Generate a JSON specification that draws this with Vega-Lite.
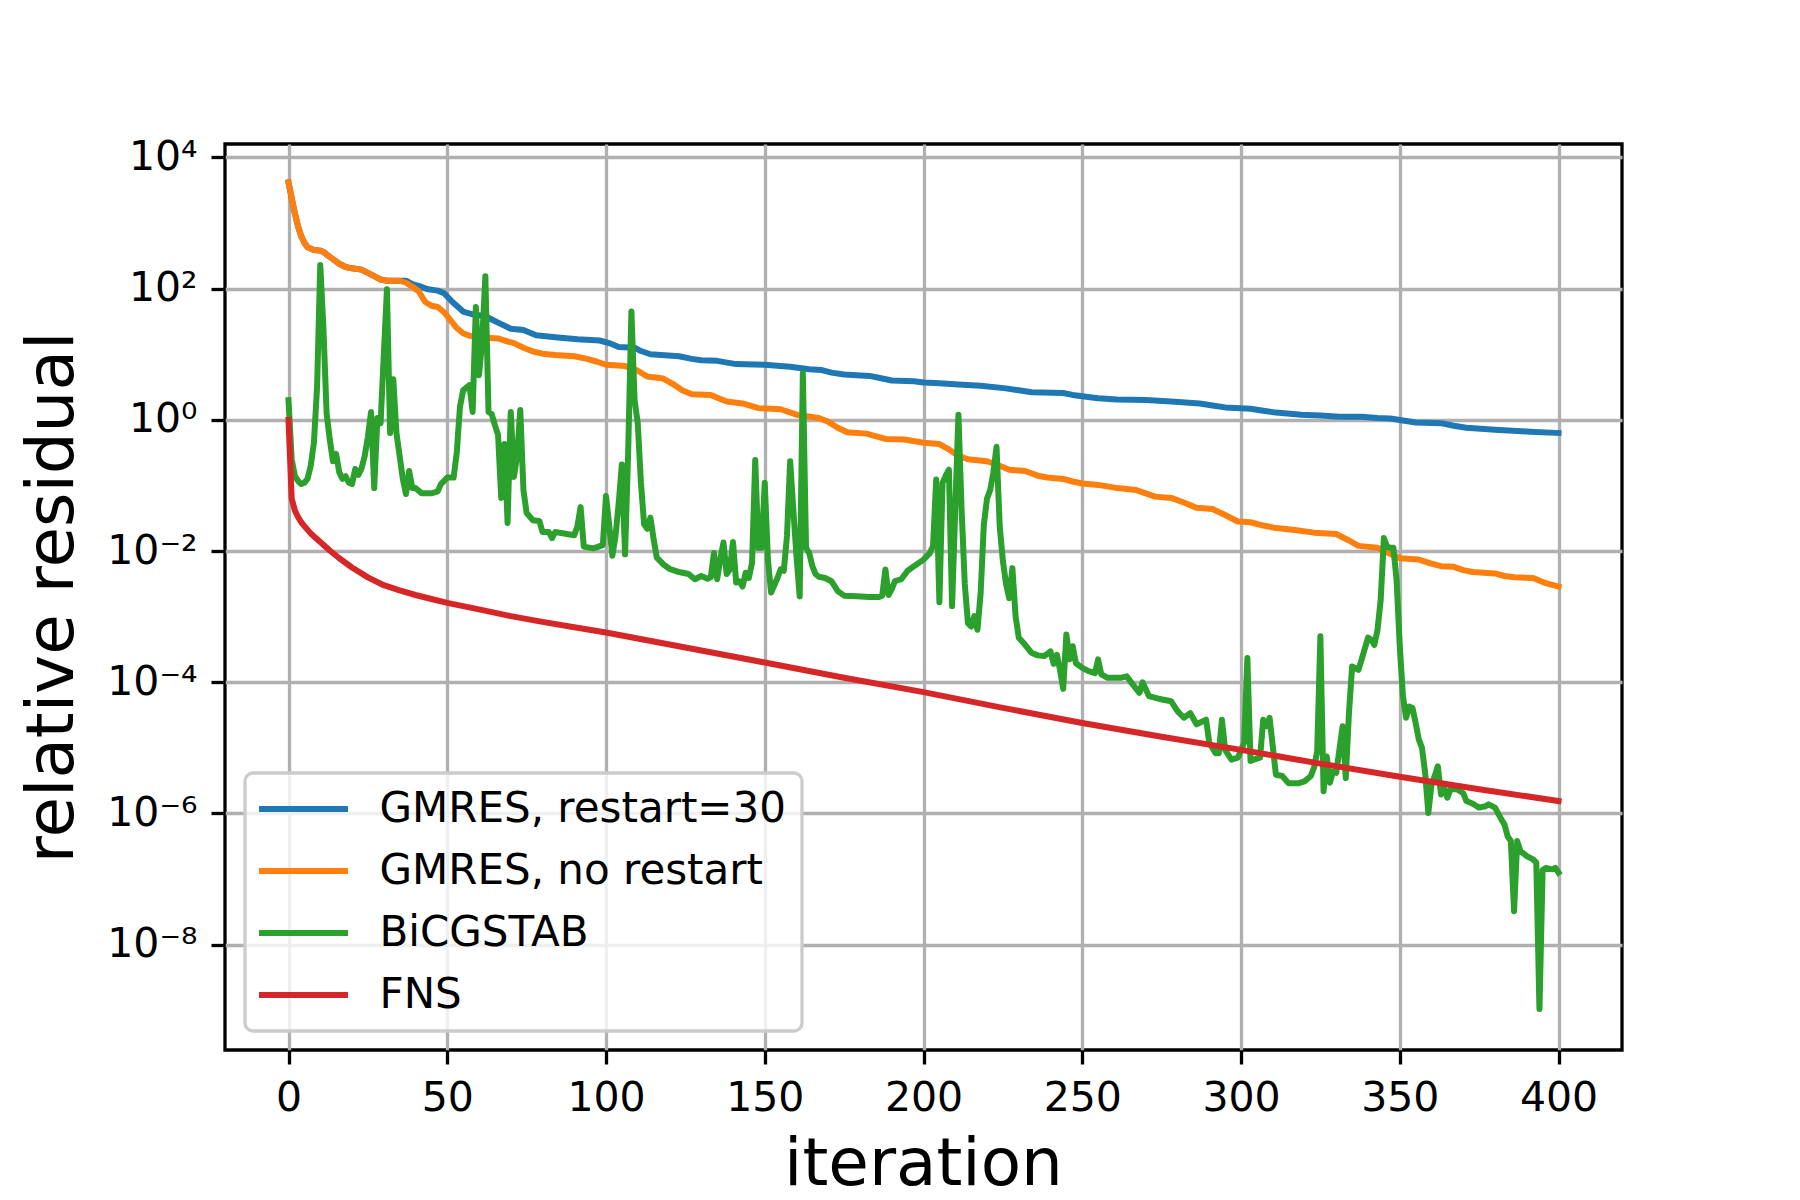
{
  "$schema": "https://vega.github.io/schema/vega-lite/v6.json",
  "width": 1397,
  "height": 906,
  "autosize": "none",
  "padding": {"left": 225, "top": 144, "right": 178, "bottom": 150},
  "background": "white",
  "config": {
    "view": {"stroke": "black", "strokeWidth": 3.3},
    "font": "DejaVu Sans",
    "axis": {
      "domain": false,
      "grid": true,
      "gridColor": "#b0b0b0",
      "gridWidth": 3.3,
      "tickColor": "black",
      "tickWidth": 3.3,
      "tickSize": 14,
      "labelFont": "DejaVu Sans",
      "labelFontSize": 41,
      "labelColor": "black",
      "labelPadding": 14,
      "labelFlush": false,
      "labelOverlap": false,
      "titleFont": "DejaVu Sans",
      "titleFontSize": 66,
      "titleFontWeight": "normal",
      "titleColor": "black"
    },
    "legend": {
      "labelFont": "DejaVu Sans",
      "labelFontSize": 42,
      "labelColor": "black",
      "labelLimit": 700,
      "labelOffset": 55,
      "symbolType": "M-2.5,0H2.5",
      "symbolSize": 1267,
      "symbolOffset": 22.5,
      "symbolStrokeWidth": 6,
      "rowPadding": 20,
      "padding": 15,
      "strokeColor": "#cccccc",
      "strokeWidth": 3.3,
      "cornerRadius": 8,
      "fillColor": "rgba(255,255,255,0.8)"
    }
  },
  "data": {
    "values": [
      {"solver": "GMRES, restart=30", "iteration": 0, "residual": 4170},
      {"solver": "GMRES, restart=30", "iteration": 1, "residual": 2400},
      {"solver": "GMRES, restart=30", "iteration": 2, "residual": 1410},
      {"solver": "GMRES, restart=30", "iteration": 3, "residual": 891},
      {"solver": "GMRES, restart=30", "iteration": 4, "residual": 631},
      {"solver": "GMRES, restart=30", "iteration": 5, "residual": 501},
      {"solver": "GMRES, restart=30", "iteration": 6, "residual": 427},
      {"solver": "GMRES, restart=30", "iteration": 8, "residual": 389},
      {"solver": "GMRES, restart=30", "iteration": 10, "residual": 380},
      {"solver": "GMRES, restart=30", "iteration": 11, "residual": 363},
      {"solver": "GMRES, restart=30", "iteration": 12, "residual": 331},
      {"solver": "GMRES, restart=30", "iteration": 14, "residual": 282},
      {"solver": "GMRES, restart=30", "iteration": 16, "residual": 240},
      {"solver": "GMRES, restart=30", "iteration": 18, "residual": 214},
      {"solver": "GMRES, restart=30", "iteration": 20, "residual": 204},
      {"solver": "GMRES, restart=30", "iteration": 23, "residual": 195},
      {"solver": "GMRES, restart=30", "iteration": 25, "residual": 174},
      {"solver": "GMRES, restart=30", "iteration": 27, "residual": 155},
      {"solver": "GMRES, restart=30", "iteration": 29, "residual": 138},
      {"solver": "GMRES, restart=30", "iteration": 31, "residual": 132},
      {"solver": "GMRES, restart=30", "iteration": 35, "residual": 132},
      {"solver": "GMRES, restart=30", "iteration": 37, "residual": 132},
      {"solver": "GMRES, restart=30", "iteration": 39, "residual": 117},
      {"solver": "GMRES, restart=30", "iteration": 41, "residual": 110},
      {"solver": "GMRES, restart=30", "iteration": 44, "residual": 97.7},
      {"solver": "GMRES, restart=30", "iteration": 47, "residual": 93.3},
      {"solver": "GMRES, restart=30", "iteration": 49, "residual": 85.1},
      {"solver": "GMRES, restart=30", "iteration": 52, "residual": 60.3},
      {"solver": "GMRES, restart=30", "iteration": 55, "residual": 44.7},
      {"solver": "GMRES, restart=30", "iteration": 58, "residual": 40.7},
      {"solver": "GMRES, restart=30", "iteration": 62, "residual": 38.0},
      {"solver": "GMRES, restart=30", "iteration": 64, "residual": 33.9},
      {"solver": "GMRES, restart=30", "iteration": 67, "residual": 28.8},
      {"solver": "GMRES, restart=30", "iteration": 70, "residual": 24.5},
      {"solver": "GMRES, restart=30", "iteration": 74, "residual": 23.4},
      {"solver": "GMRES, restart=30", "iteration": 78, "residual": 19.5},
      {"solver": "GMRES, restart=30", "iteration": 84, "residual": 18.2},
      {"solver": "GMRES, restart=30", "iteration": 91, "residual": 17.0},
      {"solver": "GMRES, restart=30", "iteration": 98, "residual": 16.2},
      {"solver": "GMRES, restart=30", "iteration": 101, "residual": 14.8},
      {"solver": "GMRES, restart=30", "iteration": 104, "residual": 12.9},
      {"solver": "GMRES, restart=30", "iteration": 109, "residual": 12.6},
      {"solver": "GMRES, restart=30", "iteration": 111, "residual": 11.2},
      {"solver": "GMRES, restart=30", "iteration": 114, "residual": 10.0},
      {"solver": "GMRES, restart=30", "iteration": 123, "residual": 9.33},
      {"solver": "GMRES, restart=30", "iteration": 127, "residual": 8.51},
      {"solver": "GMRES, restart=30", "iteration": 130, "residual": 8.13},
      {"solver": "GMRES, restart=30", "iteration": 135, "residual": 7.94},
      {"solver": "GMRES, restart=30", "iteration": 141, "residual": 7.08},
      {"solver": "GMRES, restart=30", "iteration": 150, "residual": 6.92},
      {"solver": "GMRES, restart=30", "iteration": 158, "residual": 6.46},
      {"solver": "GMRES, restart=30", "iteration": 164, "residual": 5.89},
      {"solver": "GMRES, restart=30", "iteration": 168, "residual": 5.75},
      {"solver": "GMRES, restart=30", "iteration": 171, "residual": 5.25},
      {"solver": "GMRES, restart=30", "iteration": 175, "residual": 4.90},
      {"solver": "GMRES, restart=30", "iteration": 183, "residual": 4.68},
      {"solver": "GMRES, restart=30", "iteration": 187, "residual": 4.27},
      {"solver": "GMRES, restart=30", "iteration": 190, "residual": 3.98},
      {"solver": "GMRES, restart=30", "iteration": 197, "residual": 3.89},
      {"solver": "GMRES, restart=30", "iteration": 200, "residual": 3.72},
      {"solver": "GMRES, restart=30", "iteration": 205, "residual": 3.63},
      {"solver": "GMRES, restart=30", "iteration": 211, "residual": 3.47},
      {"solver": "GMRES, restart=30", "iteration": 218, "residual": 3.31},
      {"solver": "GMRES, restart=30", "iteration": 226, "residual": 3.02},
      {"solver": "GMRES, restart=30", "iteration": 230, "residual": 2.82},
      {"solver": "GMRES, restart=30", "iteration": 234, "residual": 2.63},
      {"solver": "GMRES, restart=30", "iteration": 244, "residual": 2.57},
      {"solver": "GMRES, restart=30", "iteration": 247, "residual": 2.40},
      {"solver": "GMRES, restart=30", "iteration": 250, "residual": 2.29},
      {"solver": "GMRES, restart=30", "iteration": 255, "residual": 2.14},
      {"solver": "GMRES, restart=30", "iteration": 261, "residual": 2.04},
      {"solver": "GMRES, restart=30", "iteration": 270, "residual": 2.00},
      {"solver": "GMRES, restart=30", "iteration": 278, "residual": 1.91},
      {"solver": "GMRES, restart=30", "iteration": 287, "residual": 1.78},
      {"solver": "GMRES, restart=30", "iteration": 291, "residual": 1.66},
      {"solver": "GMRES, restart=30", "iteration": 295, "residual": 1.55},
      {"solver": "GMRES, restart=30", "iteration": 303, "residual": 1.48},
      {"solver": "GMRES, restart=30", "iteration": 307, "residual": 1.38},
      {"solver": "GMRES, restart=30", "iteration": 311, "residual": 1.29},
      {"solver": "GMRES, restart=30", "iteration": 319, "residual": 1.20},
      {"solver": "GMRES, restart=30", "iteration": 325, "residual": 1.17},
      {"solver": "GMRES, restart=30", "iteration": 331, "residual": 1.12},
      {"solver": "GMRES, restart=30", "iteration": 338, "residual": 1.12},
      {"solver": "GMRES, restart=30", "iteration": 343, "residual": 1.07},
      {"solver": "GMRES, restart=30", "iteration": 347, "residual": 1.05},
      {"solver": "GMRES, restart=30", "iteration": 351, "residual": 0.977},
      {"solver": "GMRES, restart=30", "iteration": 355, "residual": 0.912},
      {"solver": "GMRES, restart=30", "iteration": 363, "residual": 0.891},
      {"solver": "GMRES, restart=30", "iteration": 367, "residual": 0.813},
      {"solver": "GMRES, restart=30", "iteration": 371, "residual": 0.759},
      {"solver": "GMRES, restart=30", "iteration": 380, "residual": 0.708},
      {"solver": "GMRES, restart=30", "iteration": 391, "residual": 0.661},
      {"solver": "GMRES, restart=30", "iteration": 400, "residual": 0.631},

      {"solver": "GMRES, no restart", "iteration": 0, "residual": 4170},
      {"solver": "GMRES, no restart", "iteration": 1, "residual": 2400},
      {"solver": "GMRES, no restart", "iteration": 2, "residual": 1410},
      {"solver": "GMRES, no restart", "iteration": 3, "residual": 891},
      {"solver": "GMRES, no restart", "iteration": 4, "residual": 631},
      {"solver": "GMRES, no restart", "iteration": 5, "residual": 501},
      {"solver": "GMRES, no restart", "iteration": 6, "residual": 427},
      {"solver": "GMRES, no restart", "iteration": 8, "residual": 389},
      {"solver": "GMRES, no restart", "iteration": 10, "residual": 380},
      {"solver": "GMRES, no restart", "iteration": 11, "residual": 363},
      {"solver": "GMRES, no restart", "iteration": 12, "residual": 331},
      {"solver": "GMRES, no restart", "iteration": 14, "residual": 282},
      {"solver": "GMRES, no restart", "iteration": 16, "residual": 240},
      {"solver": "GMRES, no restart", "iteration": 18, "residual": 214},
      {"solver": "GMRES, no restart", "iteration": 20, "residual": 204},
      {"solver": "GMRES, no restart", "iteration": 23, "residual": 195},
      {"solver": "GMRES, no restart", "iteration": 25, "residual": 174},
      {"solver": "GMRES, no restart", "iteration": 27, "residual": 155},
      {"solver": "GMRES, no restart", "iteration": 29, "residual": 138},
      {"solver": "GMRES, no restart", "iteration": 31, "residual": 132},
      {"solver": "GMRES, no restart", "iteration": 35, "residual": 132},
      {"solver": "GMRES, no restart", "iteration": 37, "residual": 123},
      {"solver": "GMRES, no restart", "iteration": 39, "residual": 107},
      {"solver": "GMRES, no restart", "iteration": 41, "residual": 91.2},
      {"solver": "GMRES, no restart", "iteration": 43, "residual": 63.1},
      {"solver": "GMRES, no restart", "iteration": 45, "residual": 55.0},
      {"solver": "GMRES, no restart", "iteration": 47, "residual": 52.5},
      {"solver": "GMRES, no restart", "iteration": 49, "residual": 43.7},
      {"solver": "GMRES, no restart", "iteration": 51, "residual": 33.1},
      {"solver": "GMRES, no restart", "iteration": 53, "residual": 25.1},
      {"solver": "GMRES, no restart", "iteration": 55, "residual": 20.9},
      {"solver": "GMRES, no restart", "iteration": 57, "residual": 19.1},
      {"solver": "GMRES, no restart", "iteration": 60, "residual": 18.2},
      {"solver": "GMRES, no restart", "iteration": 66, "residual": 17.4},
      {"solver": "GMRES, no restart", "iteration": 68, "residual": 16.2},
      {"solver": "GMRES, no restart", "iteration": 71, "residual": 14.8},
      {"solver": "GMRES, no restart", "iteration": 74, "residual": 12.6},
      {"solver": "GMRES, no restart", "iteration": 77, "residual": 11.0},
      {"solver": "GMRES, no restart", "iteration": 80, "residual": 10.2},
      {"solver": "GMRES, no restart", "iteration": 84, "residual": 9.77},
      {"solver": "GMRES, no restart", "iteration": 90, "residual": 9.33},
      {"solver": "GMRES, no restart", "iteration": 94, "residual": 8.51},
      {"solver": "GMRES, no restart", "iteration": 97, "residual": 7.76},
      {"solver": "GMRES, no restart", "iteration": 100, "residual": 6.92},
      {"solver": "GMRES, no restart", "iteration": 106, "residual": 6.61},
      {"solver": "GMRES, no restart", "iteration": 110, "residual": 5.62},
      {"solver": "GMRES, no restart", "iteration": 113, "residual": 4.57},
      {"solver": "GMRES, no restart", "iteration": 118, "residual": 4.27},
      {"solver": "GMRES, no restart", "iteration": 121, "residual": 3.55},
      {"solver": "GMRES, no restart", "iteration": 124, "residual": 2.82},
      {"solver": "GMRES, no restart", "iteration": 127, "residual": 2.45},
      {"solver": "GMRES, no restart", "iteration": 133, "residual": 2.40},
      {"solver": "GMRES, no restart", "iteration": 138, "residual": 1.91},
      {"solver": "GMRES, no restart", "iteration": 143, "residual": 1.78},
      {"solver": "GMRES, no restart", "iteration": 148, "residual": 1.51},
      {"solver": "GMRES, no restart", "iteration": 155, "residual": 1.45},
      {"solver": "GMRES, no restart", "iteration": 160, "residual": 1.20},
      {"solver": "GMRES, no restart", "iteration": 167, "residual": 1.07},
      {"solver": "GMRES, no restart", "iteration": 170, "residual": 0.933},
      {"solver": "GMRES, no restart", "iteration": 173, "residual": 0.759},
      {"solver": "GMRES, no restart", "iteration": 176, "residual": 0.646},
      {"solver": "GMRES, no restart", "iteration": 182, "residual": 0.617},
      {"solver": "GMRES, no restart", "iteration": 188, "residual": 0.513},
      {"solver": "GMRES, no restart", "iteration": 194, "residual": 0.501},
      {"solver": "GMRES, no restart", "iteration": 200, "residual": 0.447},
      {"solver": "GMRES, no restart", "iteration": 205, "residual": 0.427},
      {"solver": "GMRES, no restart", "iteration": 208, "residual": 0.355},
      {"solver": "GMRES, no restart", "iteration": 211, "residual": 0.282},
      {"solver": "GMRES, no restart", "iteration": 214, "residual": 0.251},
      {"solver": "GMRES, no restart", "iteration": 220, "residual": 0.234},
      {"solver": "GMRES, no restart", "iteration": 224, "residual": 0.200},
      {"solver": "GMRES, no restart", "iteration": 227, "residual": 0.174},
      {"solver": "GMRES, no restart", "iteration": 232, "residual": 0.166},
      {"solver": "GMRES, no restart", "iteration": 236, "residual": 0.141},
      {"solver": "GMRES, no restart", "iteration": 239, "residual": 0.132},
      {"solver": "GMRES, no restart", "iteration": 244, "residual": 0.126},
      {"solver": "GMRES, no restart", "iteration": 247, "residual": 0.115},
      {"solver": "GMRES, no restart", "iteration": 250, "residual": 0.107},
      {"solver": "GMRES, no restart", "iteration": 255, "residual": 0.102},
      {"solver": "GMRES, no restart", "iteration": 261, "residual": 0.0912},
      {"solver": "GMRES, no restart", "iteration": 267, "residual": 0.0851},
      {"solver": "GMRES, no restart", "iteration": 270, "residual": 0.0759},
      {"solver": "GMRES, no restart", "iteration": 273, "residual": 0.0676},
      {"solver": "GMRES, no restart", "iteration": 278, "residual": 0.0646},
      {"solver": "GMRES, no restart", "iteration": 282, "residual": 0.0550},
      {"solver": "GMRES, no restart", "iteration": 286, "residual": 0.0457},
      {"solver": "GMRES, no restart", "iteration": 291, "residual": 0.0437},
      {"solver": "GMRES, no restart", "iteration": 295, "residual": 0.0355},
      {"solver": "GMRES, no restart", "iteration": 299, "residual": 0.0282},
      {"solver": "GMRES, no restart", "iteration": 303, "residual": 0.0275},
      {"solver": "GMRES, no restart", "iteration": 307, "residual": 0.0245},
      {"solver": "GMRES, no restart", "iteration": 311, "residual": 0.0224},
      {"solver": "GMRES, no restart", "iteration": 317, "residual": 0.0209},
      {"solver": "GMRES, no restart", "iteration": 323, "residual": 0.0191},
      {"solver": "GMRES, no restart", "iteration": 330, "residual": 0.0182},
      {"solver": "GMRES, no restart", "iteration": 334, "residual": 0.0145},
      {"solver": "GMRES, no restart", "iteration": 337, "residual": 0.0120},
      {"solver": "GMRES, no restart", "iteration": 343, "residual": 0.0112},
      {"solver": "GMRES, no restart", "iteration": 347, "residual": 0.00912},
      {"solver": "GMRES, no restart", "iteration": 350, "residual": 0.00776},
      {"solver": "GMRES, no restart", "iteration": 356, "residual": 0.00741},
      {"solver": "GMRES, no restart", "iteration": 360, "residual": 0.00646},
      {"solver": "GMRES, no restart", "iteration": 363, "residual": 0.00589},
      {"solver": "GMRES, no restart", "iteration": 367, "residual": 0.00575},
      {"solver": "GMRES, no restart", "iteration": 370, "residual": 0.00513},
      {"solver": "GMRES, no restart", "iteration": 373, "residual": 0.00479},
      {"solver": "GMRES, no restart", "iteration": 380, "residual": 0.00457},
      {"solver": "GMRES, no restart", "iteration": 383, "residual": 0.00417},
      {"solver": "GMRES, no restart", "iteration": 386, "residual": 0.00398},
      {"solver": "GMRES, no restart", "iteration": 392, "residual": 0.00389},
      {"solver": "GMRES, no restart", "iteration": 396, "residual": 0.00324},
      {"solver": "GMRES, no restart", "iteration": 400, "residual": 0.00288},

      {"solver": "BiCGSTAB", "iteration": 0, "residual": 2.00},
      {"solver": "BiCGSTAB", "iteration": 1, "residual": 0.251},
      {"solver": "BiCGSTAB", "iteration": 2, "residual": 0.141},
      {"solver": "BiCGSTAB", "iteration": 3, "residual": 0.117},
      {"solver": "BiCGSTAB", "iteration": 4, "residual": 0.105},
      {"solver": "BiCGSTAB", "iteration": 5, "residual": 0.110},
      {"solver": "BiCGSTAB", "iteration": 6, "residual": 0.126},
      {"solver": "BiCGSTAB", "iteration": 7, "residual": 0.200},
      {"solver": "BiCGSTAB", "iteration": 8, "residual": 0.447},
      {"solver": "BiCGSTAB", "iteration": 9, "residual": 3.16},
      {"solver": "BiCGSTAB", "iteration": 10, "residual": 229},
      {"solver": "BiCGSTAB", "iteration": 11, "residual": 25.1},
      {"solver": "BiCGSTAB", "iteration": 12, "residual": 1.26},
      {"solver": "BiCGSTAB", "iteration": 13, "residual": 0.501},
      {"solver": "BiCGSTAB", "iteration": 14, "residual": 0.234},
      {"solver": "BiCGSTAB", "iteration": 15, "residual": 0.302},
      {"solver": "BiCGSTAB", "iteration": 16, "residual": 0.158},
      {"solver": "BiCGSTAB", "iteration": 17, "residual": 0.126},
      {"solver": "BiCGSTAB", "iteration": 18, "residual": 0.138},
      {"solver": "BiCGSTAB", "iteration": 19, "residual": 0.110},
      {"solver": "BiCGSTAB", "iteration": 20, "residual": 0.105},
      {"solver": "BiCGSTAB", "iteration": 21, "residual": 0.178},
      {"solver": "BiCGSTAB", "iteration": 22, "residual": 0.145},
      {"solver": "BiCGSTAB", "iteration": 23, "residual": 0.182},
      {"solver": "BiCGSTAB", "iteration": 24, "residual": 0.282},
      {"solver": "BiCGSTAB", "iteration": 25, "residual": 0.550},
      {"solver": "BiCGSTAB", "iteration": 26, "residual": 1.32},
      {"solver": "BiCGSTAB", "iteration": 27, "residual": 0.0912},
      {"solver": "BiCGSTAB", "iteration": 28, "residual": 1.07},
      {"solver": "BiCGSTAB", "iteration": 29, "residual": 0.891},
      {"solver": "BiCGSTAB", "iteration": 30, "residual": 9.33},
      {"solver": "BiCGSTAB", "iteration": 31, "residual": 97.7},
      {"solver": "BiCGSTAB", "iteration": 32, "residual": 0.631},
      {"solver": "BiCGSTAB", "iteration": 33, "residual": 4.17},
      {"solver": "BiCGSTAB", "iteration": 34, "residual": 0.631},
      {"solver": "BiCGSTAB", "iteration": 35, "residual": 0.282},
      {"solver": "BiCGSTAB", "iteration": 36, "residual": 0.126},
      {"solver": "BiCGSTAB", "iteration": 37, "residual": 0.0741},
      {"solver": "BiCGSTAB", "iteration": 38, "residual": 0.166},
      {"solver": "BiCGSTAB", "iteration": 39, "residual": 0.0912},
      {"solver": "BiCGSTAB", "iteration": 40, "residual": 0.0912},
      {"solver": "BiCGSTAB", "iteration": 42, "residual": 0.0759},
      {"solver": "BiCGSTAB", "iteration": 45, "residual": 0.0759},
      {"solver": "BiCGSTAB", "iteration": 47, "residual": 0.0813},
      {"solver": "BiCGSTAB", "iteration": 48, "residual": 0.105},
      {"solver": "BiCGSTAB", "iteration": 50, "residual": 0.132},
      {"solver": "BiCGSTAB", "iteration": 52, "residual": 0.132},
      {"solver": "BiCGSTAB", "iteration": 53, "residual": 0.316},
      {"solver": "BiCGSTAB", "iteration": 54, "residual": 1.58},
      {"solver": "BiCGSTAB", "iteration": 55, "residual": 2.82},
      {"solver": "BiCGSTAB", "iteration": 57, "residual": 3.39},
      {"solver": "BiCGSTAB", "iteration": 58, "residual": 1.32},
      {"solver": "BiCGSTAB", "iteration": 59, "residual": 52.5},
      {"solver": "BiCGSTAB", "iteration": 60, "residual": 4.79},
      {"solver": "BiCGSTAB", "iteration": 61, "residual": 15.8},
      {"solver": "BiCGSTAB", "iteration": 62, "residual": 155},
      {"solver": "BiCGSTAB", "iteration": 63, "residual": 1.32},
      {"solver": "BiCGSTAB", "iteration": 64, "residual": 1.23},
      {"solver": "BiCGSTAB", "iteration": 65, "residual": 0.832},
      {"solver": "BiCGSTAB", "iteration": 66, "residual": 0.589},
      {"solver": "BiCGSTAB", "iteration": 67, "residual": 0.0646},
      {"solver": "BiCGSTAB", "iteration": 68, "residual": 0.427},
      {"solver": "BiCGSTAB", "iteration": 69, "residual": 0.0269},
      {"solver": "BiCGSTAB", "iteration": 70, "residual": 1.32},
      {"solver": "BiCGSTAB", "iteration": 71, "residual": 0.135},
      {"solver": "BiCGSTAB", "iteration": 72, "residual": 0.282},
      {"solver": "BiCGSTAB", "iteration": 73, "residual": 1.41},
      {"solver": "BiCGSTAB", "iteration": 74, "residual": 0.0851},
      {"solver": "BiCGSTAB", "iteration": 75, "residual": 0.0380},
      {"solver": "BiCGSTAB", "iteration": 77, "residual": 0.0295},
      {"solver": "BiCGSTAB", "iteration": 79, "residual": 0.0288},
      {"solver": "BiCGSTAB", "iteration": 80, "residual": 0.0195},
      {"solver": "BiCGSTAB", "iteration": 82, "residual": 0.0195},
      {"solver": "BiCGSTAB", "iteration": 83, "residual": 0.0158},
      {"solver": "BiCGSTAB", "iteration": 84, "residual": 0.0195},
      {"solver": "BiCGSTAB", "iteration": 90, "residual": 0.0174},
      {"solver": "BiCGSTAB", "iteration": 91, "residual": 0.0240},
      {"solver": "BiCGSTAB", "iteration": 92, "residual": 0.0468},
      {"solver": "BiCGSTAB", "iteration": 93, "residual": 0.0117},
      {"solver": "BiCGSTAB", "iteration": 96, "residual": 0.0110},
      {"solver": "BiCGSTAB", "iteration": 99, "residual": 0.0123},
      {"solver": "BiCGSTAB", "iteration": 100, "residual": 0.0692},
      {"solver": "BiCGSTAB", "iteration": 101, "residual": 0.0251},
      {"solver": "BiCGSTAB", "iteration": 102, "residual": 0.00851},
      {"solver": "BiCGSTAB", "iteration": 103, "residual": 0.0170},
      {"solver": "BiCGSTAB", "iteration": 104, "residual": 0.0537},
      {"solver": "BiCGSTAB", "iteration": 105, "residual": 0.209},
      {"solver": "BiCGSTAB", "iteration": 106, "residual": 0.00891},
      {"solver": "BiCGSTAB", "iteration": 107, "residual": 0.347},
      {"solver": "BiCGSTAB", "iteration": 108, "residual": 44.7},
      {"solver": "BiCGSTAB", "iteration": 109, "residual": 2.00},
      {"solver": "BiCGSTAB", "iteration": 110, "residual": 0.891},
      {"solver": "BiCGSTAB", "iteration": 111, "residual": 0.110},
      {"solver": "BiCGSTAB", "iteration": 112, "residual": 0.0257},
      {"solver": "BiCGSTAB", "iteration": 113, "residual": 0.0219},
      {"solver": "BiCGSTAB", "iteration": 114, "residual": 0.0324},
      {"solver": "BiCGSTAB", "iteration": 115, "residual": 0.0151},
      {"solver": "BiCGSTAB", "iteration": 116, "residual": 0.00794},
      {"solver": "BiCGSTAB", "iteration": 118, "residual": 0.00631},
      {"solver": "BiCGSTAB", "iteration": 120, "residual": 0.00537},
      {"solver": "BiCGSTAB", "iteration": 123, "residual": 0.00479},
      {"solver": "BiCGSTAB", "iteration": 126, "residual": 0.00447},
      {"solver": "BiCGSTAB", "iteration": 128, "residual": 0.00372},
      {"solver": "BiCGSTAB", "iteration": 130, "residual": 0.00417},
      {"solver": "BiCGSTAB", "iteration": 132, "residual": 0.00380},
      {"solver": "BiCGSTAB", "iteration": 133, "residual": 0.00398},
      {"solver": "BiCGSTAB", "iteration": 134, "residual": 0.00933},
      {"solver": "BiCGSTAB", "iteration": 135, "residual": 0.00372},
      {"solver": "BiCGSTAB", "iteration": 136, "residual": 0.00741},
      {"solver": "BiCGSTAB", "iteration": 137, "residual": 0.0135},
      {"solver": "BiCGSTAB", "iteration": 138, "residual": 0.00447},
      {"solver": "BiCGSTAB", "iteration": 139, "residual": 0.00525},
      {"solver": "BiCGSTAB", "iteration": 140, "residual": 0.0138},
      {"solver": "BiCGSTAB", "iteration": 141, "residual": 0.00331},
      {"solver": "BiCGSTAB", "iteration": 142, "residual": 0.00347},
      {"solver": "BiCGSTAB", "iteration": 143, "residual": 0.00288},
      {"solver": "BiCGSTAB", "iteration": 144, "residual": 0.00468},
      {"solver": "BiCGSTAB", "iteration": 145, "residual": 0.00389},
      {"solver": "BiCGSTAB", "iteration": 146, "residual": 0.00661},
      {"solver": "BiCGSTAB", "iteration": 147, "residual": 0.245},
      {"solver": "BiCGSTAB", "iteration": 148, "residual": 0.0112},
      {"solver": "BiCGSTAB", "iteration": 149, "residual": 0.0112},
      {"solver": "BiCGSTAB", "iteration": 150, "residual": 0.110},
      {"solver": "BiCGSTAB", "iteration": 151, "residual": 0.00741},
      {"solver": "BiCGSTAB", "iteration": 152, "residual": 0.00234},
      {"solver": "BiCGSTAB", "iteration": 154, "residual": 0.00389},
      {"solver": "BiCGSTAB", "iteration": 155, "residual": 0.00525},
      {"solver": "BiCGSTAB", "iteration": 156, "residual": 0.00501},
      {"solver": "BiCGSTAB", "iteration": 157, "residual": 0.0170},
      {"solver": "BiCGSTAB", "iteration": 158, "residual": 0.234},
      {"solver": "BiCGSTAB", "iteration": 159, "residual": 0.0427},
      {"solver": "BiCGSTAB", "iteration": 160, "residual": 0.00832},
      {"solver": "BiCGSTAB", "iteration": 161, "residual": 0.00204},
      {"solver": "BiCGSTAB", "iteration": 162, "residual": 5.13},
      {"solver": "BiCGSTAB", "iteration": 163, "residual": 0.0112},
      {"solver": "BiCGSTAB", "iteration": 164, "residual": 0.00933},
      {"solver": "BiCGSTAB", "iteration": 165, "residual": 0.00589},
      {"solver": "BiCGSTAB", "iteration": 166, "residual": 0.00447},
      {"solver": "BiCGSTAB", "iteration": 167, "residual": 0.00407},
      {"solver": "BiCGSTAB", "iteration": 169, "residual": 0.00389},
      {"solver": "BiCGSTAB", "iteration": 171, "residual": 0.00347},
      {"solver": "BiCGSTAB", "iteration": 173, "residual": 0.00245},
      {"solver": "BiCGSTAB", "iteration": 175, "residual": 0.00209},
      {"solver": "BiCGSTAB", "iteration": 179, "residual": 0.00204},
      {"solver": "BiCGSTAB", "iteration": 183, "residual": 0.00200},
      {"solver": "BiCGSTAB", "iteration": 186, "residual": 0.00200},
      {"solver": "BiCGSTAB", "iteration": 187, "residual": 0.00209},
      {"solver": "BiCGSTAB", "iteration": 188, "residual": 0.00525},
      {"solver": "BiCGSTAB", "iteration": 189, "residual": 0.00214},
      {"solver": "BiCGSTAB", "iteration": 190, "residual": 0.00263},
      {"solver": "BiCGSTAB", "iteration": 191, "residual": 0.00347},
      {"solver": "BiCGSTAB", "iteration": 193, "residual": 0.00372},
      {"solver": "BiCGSTAB", "iteration": 195, "residual": 0.00501},
      {"solver": "BiCGSTAB", "iteration": 197, "residual": 0.00589},
      {"solver": "BiCGSTAB", "iteration": 200, "residual": 0.00741},
      {"solver": "BiCGSTAB", "iteration": 202, "residual": 0.00933},
      {"solver": "BiCGSTAB", "iteration": 203, "residual": 0.0120},
      {"solver": "BiCGSTAB", "iteration": 204, "residual": 0.123},
      {"solver": "BiCGSTAB", "iteration": 205, "residual": 0.00166},
      {"solver": "BiCGSTAB", "iteration": 206, "residual": 0.110},
      {"solver": "BiCGSTAB", "iteration": 207, "residual": 0.141},
      {"solver": "BiCGSTAB", "iteration": 208, "residual": 0.174},
      {"solver": "BiCGSTAB", "iteration": 209, "residual": 0.00145},
      {"solver": "BiCGSTAB", "iteration": 210, "residual": 0.0427},
      {"solver": "BiCGSTAB", "iteration": 211, "residual": 1.20},
      {"solver": "BiCGSTAB", "iteration": 212, "residual": 0.0427},
      {"solver": "BiCGSTAB", "iteration": 213, "residual": 0.00316},
      {"solver": "BiCGSTAB", "iteration": 214, "residual": 0.000794},
      {"solver": "BiCGSTAB", "iteration": 215, "residual": 0.000708},
      {"solver": "BiCGSTAB", "iteration": 216, "residual": 0.00102},
      {"solver": "BiCGSTAB", "iteration": 217, "residual": 0.000631},
      {"solver": "BiCGSTAB", "iteration": 218, "residual": 0.00229},
      {"solver": "BiCGSTAB", "iteration": 219, "residual": 0.0251},
      {"solver": "BiCGSTAB", "iteration": 220, "residual": 0.0631},
      {"solver": "BiCGSTAB", "iteration": 221, "residual": 0.0851},
      {"solver": "BiCGSTAB", "iteration": 222, "residual": 0.158},
      {"solver": "BiCGSTAB", "iteration": 223, "residual": 0.389},
      {"solver": "BiCGSTAB", "iteration": 224, "residual": 0.0240},
      {"solver": "BiCGSTAB", "iteration": 225, "residual": 0.00708},
      {"solver": "BiCGSTAB", "iteration": 226, "residual": 0.00316},
      {"solver": "BiCGSTAB", "iteration": 227, "residual": 0.00191},
      {"solver": "BiCGSTAB", "iteration": 228, "residual": 0.00550},
      {"solver": "BiCGSTAB", "iteration": 229, "residual": 0.00102},
      {"solver": "BiCGSTAB", "iteration": 230, "residual": 0.000479},
      {"solver": "BiCGSTAB", "iteration": 232, "residual": 0.000372},
      {"solver": "BiCGSTAB", "iteration": 234, "residual": 0.000282},
      {"solver": "BiCGSTAB", "iteration": 236, "residual": 0.000257},
      {"solver": "BiCGSTAB", "iteration": 238, "residual": 0.000251},
      {"solver": "BiCGSTAB", "iteration": 240, "residual": 0.000295},
      {"solver": "BiCGSTAB", "iteration": 241, "residual": 0.000191},
      {"solver": "BiCGSTAB", "iteration": 242, "residual": 0.000263},
      {"solver": "BiCGSTAB", "iteration": 243, "residual": 0.000155},
      {"solver": "BiCGSTAB", "iteration": 244, "residual": 0.0000794},
      {"solver": "BiCGSTAB", "iteration": 245, "residual": 0.000537},
      {"solver": "BiCGSTAB", "iteration": 246, "residual": 0.000224},
      {"solver": "BiCGSTAB", "iteration": 247, "residual": 0.000355},
      {"solver": "BiCGSTAB", "iteration": 248, "residual": 0.000195},
      {"solver": "BiCGSTAB", "iteration": 250, "residual": 0.000166},
      {"solver": "BiCGSTAB", "iteration": 252, "residual": 0.000148},
      {"solver": "BiCGSTAB", "iteration": 254, "residual": 0.000138},
      {"solver": "BiCGSTAB", "iteration": 255, "residual": 0.000224},
      {"solver": "BiCGSTAB", "iteration": 256, "residual": 0.000132},
      {"solver": "BiCGSTAB", "iteration": 258, "residual": 0.000117},
      {"solver": "BiCGSTAB", "iteration": 262, "residual": 0.000117},
      {"solver": "BiCGSTAB", "iteration": 264, "residual": 0.000123},
      {"solver": "BiCGSTAB", "iteration": 266, "residual": 0.0000912},
      {"solver": "BiCGSTAB", "iteration": 268, "residual": 0.0000692},
      {"solver": "BiCGSTAB", "iteration": 269, "residual": 0.000100},
      {"solver": "BiCGSTAB", "iteration": 271, "residual": 0.0000617},
      {"solver": "BiCGSTAB", "iteration": 274, "residual": 0.0000562},
      {"solver": "BiCGSTAB", "iteration": 278, "residual": 0.0000513},
      {"solver": "BiCGSTAB", "iteration": 280, "residual": 0.0000363},
      {"solver": "BiCGSTAB", "iteration": 282, "residual": 0.0000288},
      {"solver": "BiCGSTAB", "iteration": 284, "residual": 0.0000339},
      {"solver": "BiCGSTAB", "iteration": 286, "residual": 0.0000229},
      {"solver": "BiCGSTAB", "iteration": 289, "residual": 0.0000269},
      {"solver": "BiCGSTAB", "iteration": 290, "residual": 0.0000120},
      {"solver": "BiCGSTAB", "iteration": 292, "residual": 0.00000832},
      {"solver": "BiCGSTAB", "iteration": 293, "residual": 0.00000832},
      {"solver": "BiCGSTAB", "iteration": 294, "residual": 0.0000269},
      {"solver": "BiCGSTAB", "iteration": 295, "residual": 0.00000933},
      {"solver": "BiCGSTAB", "iteration": 297, "residual": 0.00000661},
      {"solver": "BiCGSTAB", "iteration": 299, "residual": 0.00000708},
      {"solver": "BiCGSTAB", "iteration": 301, "residual": 0.0000120},
      {"solver": "BiCGSTAB", "iteration": 302, "residual": 0.000234},
      {"solver": "BiCGSTAB", "iteration": 303, "residual": 0.00000631},
      {"solver": "BiCGSTAB", "iteration": 304, "residual": 0.00000661},
      {"solver": "BiCGSTAB", "iteration": 306, "residual": 0.00000708},
      {"solver": "BiCGSTAB", "iteration": 307, "residual": 0.0000269},
      {"solver": "BiCGSTAB", "iteration": 308, "residual": 0.0000214},
      {"solver": "BiCGSTAB", "iteration": 309, "residual": 0.0000288},
      {"solver": "BiCGSTAB", "iteration": 311, "residual": 0.00000389},
      {"solver": "BiCGSTAB", "iteration": 313, "residual": 0.00000372},
      {"solver": "BiCGSTAB", "iteration": 315, "residual": 0.00000288},
      {"solver": "BiCGSTAB", "iteration": 318, "residual": 0.00000288},
      {"solver": "BiCGSTAB", "iteration": 320, "residual": 0.00000309},
      {"solver": "BiCGSTAB", "iteration": 322, "residual": 0.00000372},
      {"solver": "BiCGSTAB", "iteration": 323, "residual": 0.00000501},
      {"solver": "BiCGSTAB", "iteration": 324, "residual": 0.00000891},
      {"solver": "BiCGSTAB", "iteration": 325, "residual": 0.000501},
      {"solver": "BiCGSTAB", "iteration": 326, "residual": 0.00000219},
      {"solver": "BiCGSTAB", "iteration": 327, "residual": 0.00000741},
      {"solver": "BiCGSTAB", "iteration": 328, "residual": 0.00000295},
      {"solver": "BiCGSTAB", "iteration": 329, "residual": 0.00000437},
      {"solver": "BiCGSTAB", "iteration": 330, "residual": 0.00000417},
      {"solver": "BiCGSTAB", "iteration": 332, "residual": 0.0000214},
      {"solver": "BiCGSTAB", "iteration": 333, "residual": 0.00000347},
      {"solver": "BiCGSTAB", "iteration": 334, "residual": 0.0000339},
      {"solver": "BiCGSTAB", "iteration": 335, "residual": 0.000174},
      {"solver": "BiCGSTAB", "iteration": 337, "residual": 0.000155},
      {"solver": "BiCGSTAB", "iteration": 338, "residual": 0.000224},
      {"solver": "BiCGSTAB", "iteration": 340, "residual": 0.000479},
      {"solver": "BiCGSTAB", "iteration": 341, "residual": 0.000447},
      {"solver": "BiCGSTAB", "iteration": 342, "residual": 0.000372},
      {"solver": "BiCGSTAB", "iteration": 343, "residual": 0.000631},
      {"solver": "BiCGSTAB", "iteration": 344, "residual": 0.00182},
      {"solver": "BiCGSTAB", "iteration": 345, "residual": 0.0158},
      {"solver": "BiCGSTAB", "iteration": 346, "residual": 0.0117},
      {"solver": "BiCGSTAB", "iteration": 347, "residual": 0.0112},
      {"solver": "BiCGSTAB", "iteration": 348, "residual": 0.0112},
      {"solver": "BiCGSTAB", "iteration": 349, "residual": 0.00363},
      {"solver": "BiCGSTAB", "iteration": 350, "residual": 0.000355},
      {"solver": "BiCGSTAB", "iteration": 351, "residual": 0.0000617},
      {"solver": "BiCGSTAB", "iteration": 352, "residual": 0.0000288},
      {"solver": "BiCGSTAB", "iteration": 353, "residual": 0.0000427},
      {"solver": "BiCGSTAB", "iteration": 354, "residual": 0.0000407},
      {"solver": "BiCGSTAB", "iteration": 355, "residual": 0.0000240},
      {"solver": "BiCGSTAB", "iteration": 356, "residual": 0.0000135},
      {"solver": "BiCGSTAB", "iteration": 357, "residual": 0.0000100},
      {"solver": "BiCGSTAB", "iteration": 358, "residual": 0.00000417},
      {"solver": "BiCGSTAB", "iteration": 359, "residual": 0.00000102},
      {"solver": "BiCGSTAB", "iteration": 360, "residual": 0.00000275},
      {"solver": "BiCGSTAB", "iteration": 361, "residual": 0.00000372},
      {"solver": "BiCGSTAB", "iteration": 362, "residual": 0.00000525},
      {"solver": "BiCGSTAB", "iteration": 363, "residual": 0.00000195},
      {"solver": "BiCGSTAB", "iteration": 364, "residual": 0.00000245},
      {"solver": "BiCGSTAB", "iteration": 365, "residual": 0.00000174},
      {"solver": "BiCGSTAB", "iteration": 366, "residual": 0.00000234},
      {"solver": "BiCGSTAB", "iteration": 368, "residual": 0.00000234},
      {"solver": "BiCGSTAB", "iteration": 370, "residual": 0.00000204},
      {"solver": "BiCGSTAB", "iteration": 371, "residual": 0.00000155},
      {"solver": "BiCGSTAB", "iteration": 373, "residual": 0.00000141},
      {"solver": "BiCGSTAB", "iteration": 375, "residual": 0.00000123},
      {"solver": "BiCGSTAB", "iteration": 377, "residual": 0.00000129},
      {"solver": "BiCGSTAB", "iteration": 378, "residual": 0.00000138},
      {"solver": "BiCGSTAB", "iteration": 380, "residual": 0.00000123},
      {"solver": "BiCGSTAB", "iteration": 382, "residual": 0.000000813},
      {"solver": "BiCGSTAB", "iteration": 383, "residual": 0.000000676},
      {"solver": "BiCGSTAB", "iteration": 384, "residual": 0.000000447},
      {"solver": "BiCGSTAB", "iteration": 385, "residual": 0.000000380},
      {"solver": "BiCGSTAB", "iteration": 386, "residual": 0.0000000324},
      {"solver": "BiCGSTAB", "iteration": 387, "residual": 0.000000380},
      {"solver": "BiCGSTAB", "iteration": 388, "residual": 0.000000269},
      {"solver": "BiCGSTAB", "iteration": 390, "residual": 0.000000224},
      {"solver": "BiCGSTAB", "iteration": 392, "residual": 0.000000200},
      {"solver": "BiCGSTAB", "iteration": 393, "residual": 0.000000178},
      {"solver": "BiCGSTAB", "iteration": 394, "residual": 0.00000000105},
      {"solver": "BiCGSTAB", "iteration": 395, "residual": 0.000000138},
      {"solver": "BiCGSTAB", "iteration": 396, "residual": 0.000000148},
      {"solver": "BiCGSTAB", "iteration": 398, "residual": 0.000000141},
      {"solver": "BiCGSTAB", "iteration": 399, "residual": 0.000000148},
      {"solver": "BiCGSTAB", "iteration": 400, "residual": 0.000000126},

      {"solver": "FNS", "iteration": 0, "residual": 1.0},
      {"solver": "FNS", "iteration": 1, "residual": 0.0631},
      {"solver": "FNS", "iteration": 2, "residual": 0.0417},
      {"solver": "FNS", "iteration": 3, "residual": 0.0331},
      {"solver": "FNS", "iteration": 4, "residual": 0.0275},
      {"solver": "FNS", "iteration": 5, "residual": 0.0240},
      {"solver": "FNS", "iteration": 7, "residual": 0.0186},
      {"solver": "FNS", "iteration": 10, "residual": 0.0138},
      {"solver": "FNS", "iteration": 13, "residual": 0.0102},
      {"solver": "FNS", "iteration": 16, "residual": 0.00776},
      {"solver": "FNS", "iteration": 20, "residual": 0.00562},
      {"solver": "FNS", "iteration": 25, "residual": 0.00398},
      {"solver": "FNS", "iteration": 30, "residual": 0.00302},
      {"solver": "FNS", "iteration": 35, "residual": 0.00251},
      {"solver": "FNS", "iteration": 40, "residual": 0.00214},
      {"solver": "FNS", "iteration": 45, "residual": 0.00186},
      {"solver": "FNS", "iteration": 50, "residual": 0.00162},
      {"solver": "FNS", "iteration": 60, "residual": 0.00129},
      {"solver": "FNS", "iteration": 70, "residual": 0.00102},
      {"solver": "FNS", "iteration": 80, "residual": 0.000832},
      {"solver": "FNS", "iteration": 90, "residual": 0.000692},
      {"solver": "FNS", "iteration": 100, "residual": 0.000575},
      {"solver": "FNS", "iteration": 125, "residual": 0.000339},
      {"solver": "FNS", "iteration": 150, "residual": 0.000200},
      {"solver": "FNS", "iteration": 175, "residual": 0.000117},
      {"solver": "FNS", "iteration": 200, "residual": 0.0000708},
      {"solver": "FNS", "iteration": 225, "residual": 0.0000407},
      {"solver": "FNS", "iteration": 250, "residual": 0.0000240},
      {"solver": "FNS", "iteration": 275, "residual": 0.0000148},
      {"solver": "FNS", "iteration": 300, "residual": 0.00000933},
      {"solver": "FNS", "iteration": 325, "residual": 0.00000575},
      {"solver": "FNS", "iteration": 350, "residual": 0.00000363},
      {"solver": "FNS", "iteration": 375, "residual": 0.00000234},
      {"solver": "FNS", "iteration": 400, "residual": 0.00000155}
    ]
  },
  "mark": {"type": "line", "strokeWidth": 6, "strokeJoin": "round", "strokeCap": "square", "clip": true},
  "encoding": {
    "x": {
      "field": "iteration",
      "type": "quantitative",
      "scale": {"domain": [-20, 420], "nice": false, "zero": false},
      "axis": {
        "title": "iteration",
        "values": [0, 50, 100, 150, 200, 250, 300, 350, 400],
        "titleX": 698,
        "titleY": 134,
        "titleBaseline": "alphabetic"
      }
    },
    "y": {
      "field": "residual",
      "type": "quantitative",
      "scale": {"type": "log", "domain": [2.483e-10, 16032], "nice": false},
      "axis": {
        "title": "relative residual",
        "values": [1e-8, 1e-6, 1e-4, 1e-2, 1, 100, 10000],
        "labelExpr": "datum.value >= 1000 ? '10⁴' : datum.value >= 10 ? '10²' : datum.value >= 0.1 ? '10⁰' : datum.value >= 0.001 ? '10⁻²' : datum.value >= 0.00001 ? '10⁻⁴' : datum.value >= 0.0000001 ? '10⁻⁶' : '10⁻⁸'",
        "titleX": -153,
        "titleY": 453,
        "titleAngle": 270,
        "titleBaseline": "alphabetic",
        "titleAlign": "center"
      }
    },
    "color": {
      "field": "solver",
      "type": "nominal",
      "scale": {
        "domain": ["GMRES, restart=30", "GMRES, no restart", "BiCGSTAB", "FNS"],
        "range": ["#1f77b4", "#ff7f0e", "#2ca02c", "#d62728"]
      },
      "legend": {"title": null, "orient": "none", "legendX": 20, "legendY": 629}
    }
  }
}
